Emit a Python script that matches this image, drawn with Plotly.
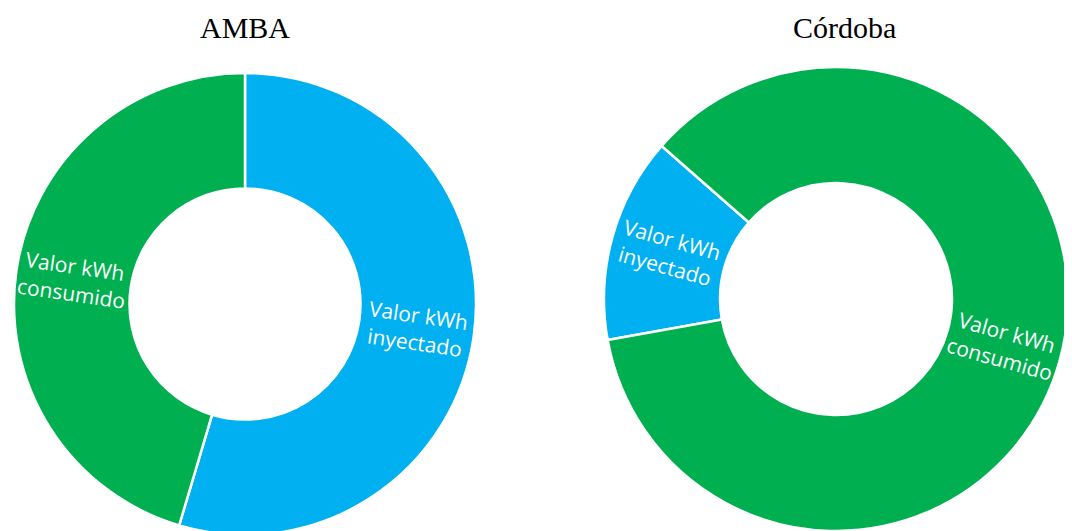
import math
import plotly.graph_objects as go

labels = ["Valor kWh inyectado", "Valor kWh consumido"]
slice_text = ["Valor kWh<br>inyectado", "Valor kWh<br>consumido"]
colors = ["#00B0F0", "#00B050"]
amba_values = [54.6, 45.4]
cordoba_values = [14.3, 85.7]
titles = ["AMBA", "Córdoba"]

W, H = 1072, 531
OFF = 8  # default page body margin

# pie layout in page pixels: center x, center y, radius, start rotation
pies = [
    dict(values=amba_values, cx=245, cy=304, r=231, rot=0, title=titles[0], tx=245),
    dict(values=cordoba_values, cx=836, cy=299, r=232, rot=259.8, title=titles[1], tx=844),
]

fig = go.Figure()
for p in pies:
    cx, cy, r = p["cx"] - OFF, p["cy"] - OFF, p["r"]
    fig.add_trace(go.Pie(
        labels=labels, values=p["values"], textinfo="none",
        hole=0.5, sort=False, direction="clockwise", rotation=p["rot"],
        marker=dict(colors=colors, line=dict(color="white", width=2.5)),
        domain=dict(x=[(cx - r) / W, (cx + r) / W],
                    y=[(H - cy - r) / H, (H - cy + r) / H]),
        showlegend=False,
    ))
    # slice labels, placed radially at mid-angle of each slice
    total = sum(p["values"])
    start = p["rot"]
    for v, t in zip(p["values"], slice_text):
        span = v / total * 360
        mid = (start + span / 2) % 360
        start += span
        rm = 0.75 * r
        x = cx + rm * math.sin(math.radians(mid))
        y = cy - rm * math.cos(math.radians(mid))
        ang = mid - 90 if mid < 180 else mid - 270
        fig.add_annotation(text=t, x=x / W, y=1 - y / H, xref="paper", yref="paper",
                           showarrow=False, textangle=ang, align="center",
                           font=dict(family="Open Sans", size=21, color="white"),
                           xanchor="center", yanchor="middle")
    fig.add_annotation(text=p["title"], x=(p["tx"] - OFF) / W, y=1 - (28 - OFF) / H,
                       xref="paper", yref="paper", showarrow=False,
                       font=dict(family="Liberation Serif", size=30, color="black"),
                       xanchor="center", yanchor="middle")

fig.update_layout(width=W, height=H, margin=dict(l=0, r=0, t=0, b=0),
                  paper_bgcolor="white", plot_bgcolor="white")
fig.write_html("out.html")
